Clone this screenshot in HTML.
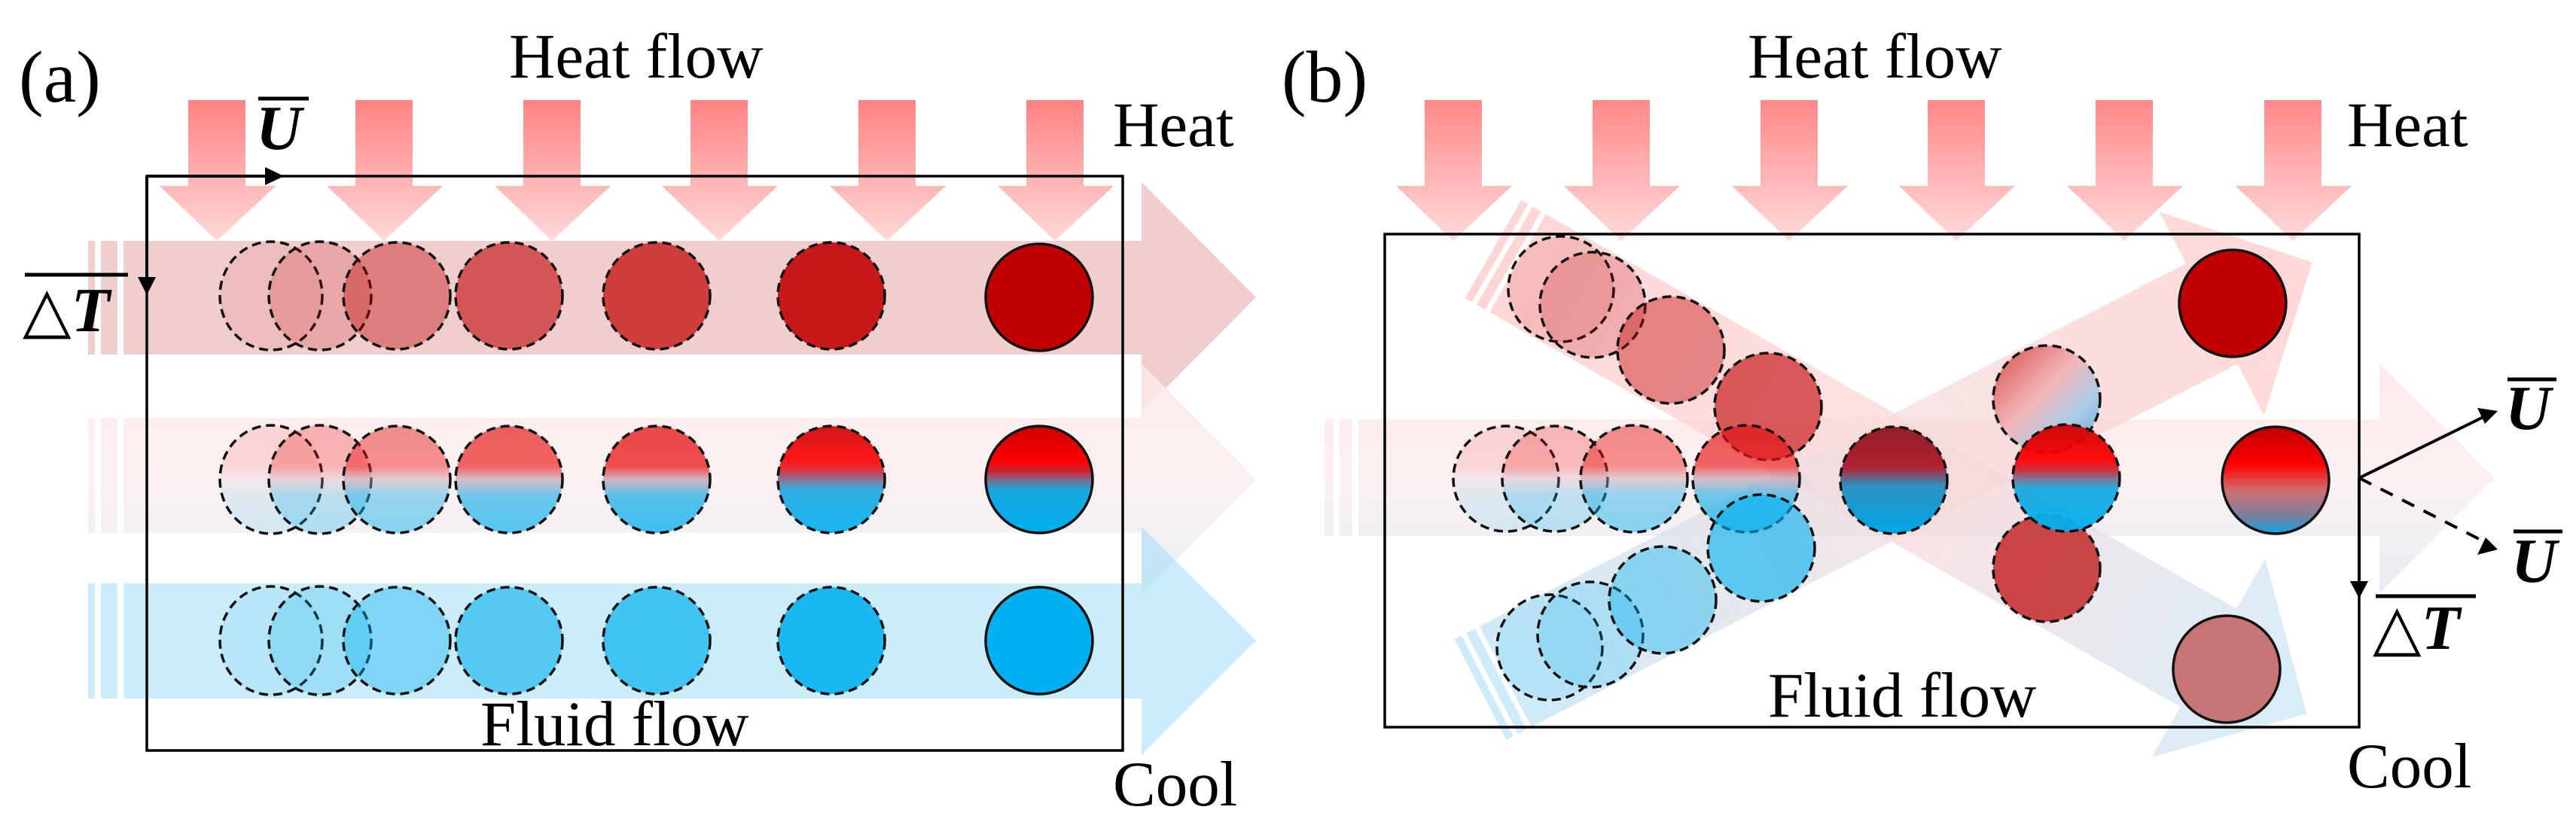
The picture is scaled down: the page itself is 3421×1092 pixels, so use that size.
<!DOCTYPE html>
<html><head><meta charset="utf-8"><style>
html,body{margin:0;padding:0;background:#fff}
svg{display:block}
text{font-family:"Liberation Serif",serif;fill:#000}
</style></head><body>
<svg width="3421" height="1092" viewBox="0 0 3421 1092" xmlns="http://www.w3.org/2000/svg">
<defs>
<linearGradient id="heat" x1="0" y1="0" x2="0" y2="1"><stop offset="0" stop-color="#ff7b7b"/><stop offset="1" stop-color="#ffd6d6"/></linearGradient>
<linearGradient id="mid" x1="0" y1="0" x2="0" y2="1"><stop offset="0" stop-color="#fde9e9"/><stop offset="0.5" stop-color="#fbeeee"/><stop offset="1" stop-color="#e4ecf3"/></linearGradient>
<linearGradient id="midb" x1="0" y1="0" x2="0" y2="1"><stop offset="0" stop-color="#fde6e6" stop-opacity="0.85"/><stop offset="0.5" stop-color="#fbeeee" stop-opacity="0.85"/><stop offset="1" stop-color="#e2eaf2" stop-opacity="0.85"/></linearGradient>
<linearGradient id="rb" x1="0" y1="0" x2="0" y2="1"><stop offset="0" stop-color="#cc0000"/><stop offset="0.33" stop-color="#ff0000"/><stop offset="0.43" stop-color="#c82838"/><stop offset="0.52" stop-color="#6a78a0"/><stop offset="0.6" stop-color="#18a8e0"/><stop offset="1" stop-color="#00b0f0"/></linearGradient>
<linearGradient id="rbsoft" x1="0" y1="0" x2="0" y2="1"><stop offset="0" stop-color="#e01010"/><stop offset="0.38" stop-color="#f01818"/><stop offset="0.5" stop-color="#c0a0b0"/><stop offset="0.65" stop-color="#20b0e8"/><stop offset="1" stop-color="#00b0f0"/></linearGradient>
<linearGradient id="rbdark" x1="0" y1="0" x2="0" y2="1"><stop offset="0" stop-color="#902028"/><stop offset="0.38" stop-color="#b02030"/><stop offset="0.55" stop-color="#3090c0"/><stop offset="1" stop-color="#00a8e8"/></linearGradient>
<linearGradient id="rbend" x1="0" y1="0" x2="0" y2="1"><stop offset="0" stop-color="#c00000"/><stop offset="0.35" stop-color="#ff0000"/><stop offset="0.6" stop-color="#d07070"/><stop offset="0.85" stop-color="#7080a0"/><stop offset="1" stop-color="#10a8e8"/></linearGradient>
<linearGradient id="diag" x1="0" y1="0" x2="1" y2="1"><stop offset="0" stop-color="#d03030"/><stop offset="0.45" stop-color="#f0b0b0"/><stop offset="0.7" stop-color="#a0c8e8"/><stop offset="1" stop-color="#40a0d8"/></linearGradient>
<linearGradient id="dn" gradientUnits="userSpaceOnUse" x1="0" y1="0" x2="1244" y2="0"><stop offset="0" stop-color="#ffc8c8"/><stop offset="0.5" stop-color="#fbd8d8"/><stop offset="1" stop-color="#c8e8f8"/></linearGradient>
<linearGradient id="up" gradientUnits="userSpaceOnUse" x1="0" y1="0" x2="1242" y2="0"><stop offset="0" stop-color="#b8e4f8"/><stop offset="0.5" stop-color="#f4dcdc"/><stop offset="1" stop-color="#ffc8c8"/></linearGradient>
</defs>

<!-- ===== Panel (a) ===== -->
<text x="25" y="135" font-size="98">(a)</text>
<text x="676" y="103" font-size="85">Heat flow</text>
<text x="1478" y="194" font-size="85">Heat</text>
<text x="1478" y="1070" font-size="85">Cool</text>

<polygon points="117,320 1516,320 1516,242 1668,395 1516,548 1516,471 117,471" fill="#e8b0b0" fill-opacity="0.62"/>
<polygon points="117,555 1516,555 1516,483 1668,637 1516,790 1516,708 117,708" fill="url(#mid)" fill-opacity="0.85"/>
<polygon points="117,775 1516,775 1516,700 1668,851 1516,1003 1516,928 117,928" fill="#a0dcf4" fill-opacity="0.55"/>
<g stroke="#fff" stroke-width="8">
<line x1="130" y1="315" x2="130" y2="935"/><line x1="160" y1="315" x2="160" y2="935"/>
</g>

<g fill="url(#heat)" fill-opacity="0.95">
<polygon points="250,133 326,133 326,247 366,247 288,320 212,247 250,247"/>
<polygon points="472,133 548,133 548,247 588,247 510,320 434,247 472,247"/>
<polygon points="695,133 771,133 771,247 811,247 733,320 657,247 695,247"/>
<polygon points="917,133 993,133 993,247 1033,247 955,320 879,247 917,247"/>
<polygon points="1140,133 1216,133 1216,247 1256,247 1178,320 1102,247 1140,247"/>
<polygon points="1363,133 1439,133 1439,247 1479,247 1401,320 1325,247 1363,247"/>
</g>

<g stroke="#111" stroke-width="3.5" stroke-dasharray="12 7">
<ellipse cx="360" cy="393" rx="68" ry="72" fill="#c00000" fill-opacity="0.08"/>
<ellipse cx="425" cy="393" rx="68" ry="72" fill="#c00000" fill-opacity="0.18"/>
<circle cx="527" cy="393" r="71" fill="#c00000" fill-opacity="0.38"/>
<circle cx="676" cy="393" r="71" fill="#c00000" fill-opacity="0.58"/>
<circle cx="872" cy="393" r="71" fill="#c00000" fill-opacity="0.7"/>
<circle cx="1104" cy="393" r="71" fill="#c00000" fill-opacity="0.88"/>
<ellipse cx="360" cy="637" rx="68" ry="72" fill="url(#rbsoft)" fill-opacity="0.12"/>
<ellipse cx="425" cy="637" rx="68" ry="72" fill="url(#rbsoft)" fill-opacity="0.28"/>
<circle cx="527" cy="637" r="71" fill="url(#rbsoft)" fill-opacity="0.45"/>
<circle cx="676" cy="637" r="71" fill="url(#rbsoft)" fill-opacity="0.65"/>
<circle cx="872" cy="637" r="71" fill="url(#rbsoft)" fill-opacity="0.75"/>
<circle cx="1104" cy="637" r="71" fill="url(#rb)" fill-opacity="0.9"/>
<ellipse cx="360" cy="851" rx="68" ry="72" fill="#00b0f0" fill-opacity="0.1"/>
<ellipse cx="425" cy="851" rx="68" ry="72" fill="#00b0f0" fill-opacity="0.22"/>
<circle cx="527" cy="851" r="71" fill="#00b0f0" fill-opacity="0.38"/>
<circle cx="676" cy="851" r="71" fill="#00b0f0" fill-opacity="0.58"/>
<circle cx="872" cy="851" r="71" fill="#00b0f0" fill-opacity="0.68"/>
<circle cx="1104" cy="851" r="71" fill="#00b0f0" fill-opacity="0.88"/>
</g>
<g stroke="#111" stroke-width="3.5">
<circle cx="1380" cy="395" r="71" fill="#c00000"/>
<circle cx="1380" cy="637" r="71" fill="url(#rb)"/>
<circle cx="1380" cy="851" r="71" fill="#00b0f0"/>
</g>

<rect x="195" y="234" width="1296" height="763" fill="none" stroke="#000" stroke-width="3.5"/>
<line x1="195" y1="234" x2="360" y2="234" stroke="#000" stroke-width="4"/>
<polygon points="352,222 377,234 352,246" fill="#000"/>
<line x1="195" y1="234" x2="195" y2="375" stroke="#000" stroke-width="4"/>
<polygon points="183,368 195,392 207,368" fill="#000"/>
<line x1="343" y1="131" x2="410" y2="131" stroke="#000" stroke-width="5"/>
<text x="340" y="198" font-size="84" font-weight="bold" font-style="italic">U</text>
<line x1="33" y1="365" x2="170" y2="365" stroke="#000" stroke-width="5"/>
<text x="30" y="440" font-size="84">△<tspan font-weight="bold" font-style="italic">T</tspan></text>
<text x="638" y="990" font-size="85">Fluid flow</text>

<!-- ===== Panel (b) ===== -->
<text x="1702" y="135" font-size="98">(b)</text>
<text x="2321" y="103" font-size="85">Heat flow</text>
<text x="3117" y="194" font-size="85">Heat</text>
<text x="3117" y="1046" font-size="85">Cool</text>

<polygon points="1759,557 3160,557 3160,483 3313,635 3160,788 3160,712 1759,712" fill="url(#midb)"/>
<g transform="translate(1983,331) rotate(29.75)">
<polygon points="0,-75 1094,-75 1094,-152 1244,0 1094,152 1094,75 0,75" fill="url(#dn)" fill-opacity="0.75"/>
<g stroke="#fff" stroke-width="7"><line x1="14" y1="-80" x2="14" y2="80"/><line x1="34" y1="-80" x2="34" y2="80"/></g>
</g>
<g transform="translate(1966,916) rotate(-27.2)">
<polygon points="0,-75 1092,-75 1092,-152 1242,0 1092,152 1092,75 0,75" fill="url(#up)" fill-opacity="0.72"/>
<g stroke="#fff" stroke-width="7"><line x1="14" y1="-80" x2="14" y2="80"/><line x1="34" y1="-80" x2="34" y2="80"/></g>
</g>
<g stroke="#fff" stroke-width="8"><line x1="1775" y1="550" x2="1775" y2="720"/><line x1="1800" y1="550" x2="1800" y2="720"/></g>

<g fill="url(#heat)" fill-opacity="0.9">
<polygon points="1892,133 1968,133 1968,247 2008,247 1930,320 1854,247 1892,247"/>
<polygon points="2115,133 2191,133 2191,247 2231,247 2153,320 2077,247 2115,247"/>
<polygon points="2338,133 2414,133 2414,247 2454,247 2376,320 2300,247 2338,247"/>
<polygon points="2560,133 2636,133 2636,247 2676,247 2598,320 2522,247 2560,247"/>
<polygon points="2783,133 2859,133 2859,247 2899,247 2821,320 2745,247 2783,247"/>
<polygon points="3007,133 3083,133 3083,247 3123,247 3045,320 2969,247 3007,247"/>
</g>

<g stroke="#111" stroke-width="3.5" stroke-dasharray="12 7">
<circle cx="2073" cy="384" r="70" fill="#c00000" fill-opacity="0.12"/>
<circle cx="2115" cy="405" r="70" fill="#c00000" fill-opacity="0.2"/>
<circle cx="2219" cy="465" r="71" fill="#c00000" fill-opacity="0.4"/>
<circle cx="2348" cy="540" r="71" fill="#c00000" fill-opacity="0.6"/>
<circle cx="2000" cy="636" r="70" fill="url(#rbsoft)" fill-opacity="0.12"/>
<circle cx="2065" cy="636" r="70" fill="url(#rbsoft)" fill-opacity="0.25"/>
<circle cx="2170" cy="636" r="71" fill="url(#rbsoft)" fill-opacity="0.45"/>
<circle cx="2319" cy="636" r="71" fill="url(#rbsoft)" fill-opacity="0.65"/>
<circle cx="2058" cy="860" r="70" fill="#00b0f0" fill-opacity="0.12"/>
<circle cx="2112" cy="843" r="70" fill="#00b0f0" fill-opacity="0.2"/>
<circle cx="2208" cy="797" r="71" fill="#00b0f0" fill-opacity="0.38"/>
<circle cx="2339" cy="728" r="71" fill="#00b0f0" fill-opacity="0.6"/>
<circle cx="2515" cy="638" r="71" fill="url(#rbdark)"/>
<circle cx="2718" cy="530" r="71" fill="url(#diag)" fill-opacity="0.85"/>
<circle cx="2718" cy="755" r="71" fill="#c83c3c" fill-opacity="0.95"/>
<circle cx="2744" cy="635" r="71" fill="url(#rb)" fill-opacity="0.95"/>
</g>
<g stroke="#111" stroke-width="3.5">
<circle cx="2965" cy="403" r="71" fill="#c00000"/>
<circle cx="3022" cy="638" r="71" fill="url(#rbend)"/>
<circle cx="2957" cy="889" r="71" fill="#c87575"/>
</g>

<rect x="1839" y="311" width="1294" height="655" fill="none" stroke="#000" stroke-width="3.5"/>
<line x1="3133" y1="635" x2="3300" y2="553" stroke="#000" stroke-width="4"/>
<polygon points="3317,546 3290,542 3300,563" fill="#000"/>
<line x1="3133" y1="635" x2="3300" y2="720" stroke="#000" stroke-width="4" stroke-dasharray="18 14"/>
<polygon points="3317,730 3290,737 3301,714" fill="#000"/>
<line x1="3133" y1="635" x2="3133" y2="775" stroke="#000" stroke-width="4"/>
<polygon points="3121,772 3133,795 3145,772" fill="#000"/>
<line x1="3330" y1="504" x2="3395" y2="504" stroke="#000" stroke-width="5"/>
<text x="3327" y="570" font-size="84" font-weight="bold" font-style="italic">U</text>
<line x1="3338" y1="706" x2="3403" y2="706" stroke="#000" stroke-width="5"/>
<text x="3335" y="773" font-size="84" font-weight="bold" font-style="italic">U</text>
<line x1="3155" y1="792" x2="3288" y2="792" stroke="#000" stroke-width="5"/>
<text x="3151" y="862" font-size="84">△<tspan font-weight="bold" font-style="italic">T</tspan></text>
<text x="2348" y="952" font-size="85">Fluid flow</text>
</svg>
</body></html>
